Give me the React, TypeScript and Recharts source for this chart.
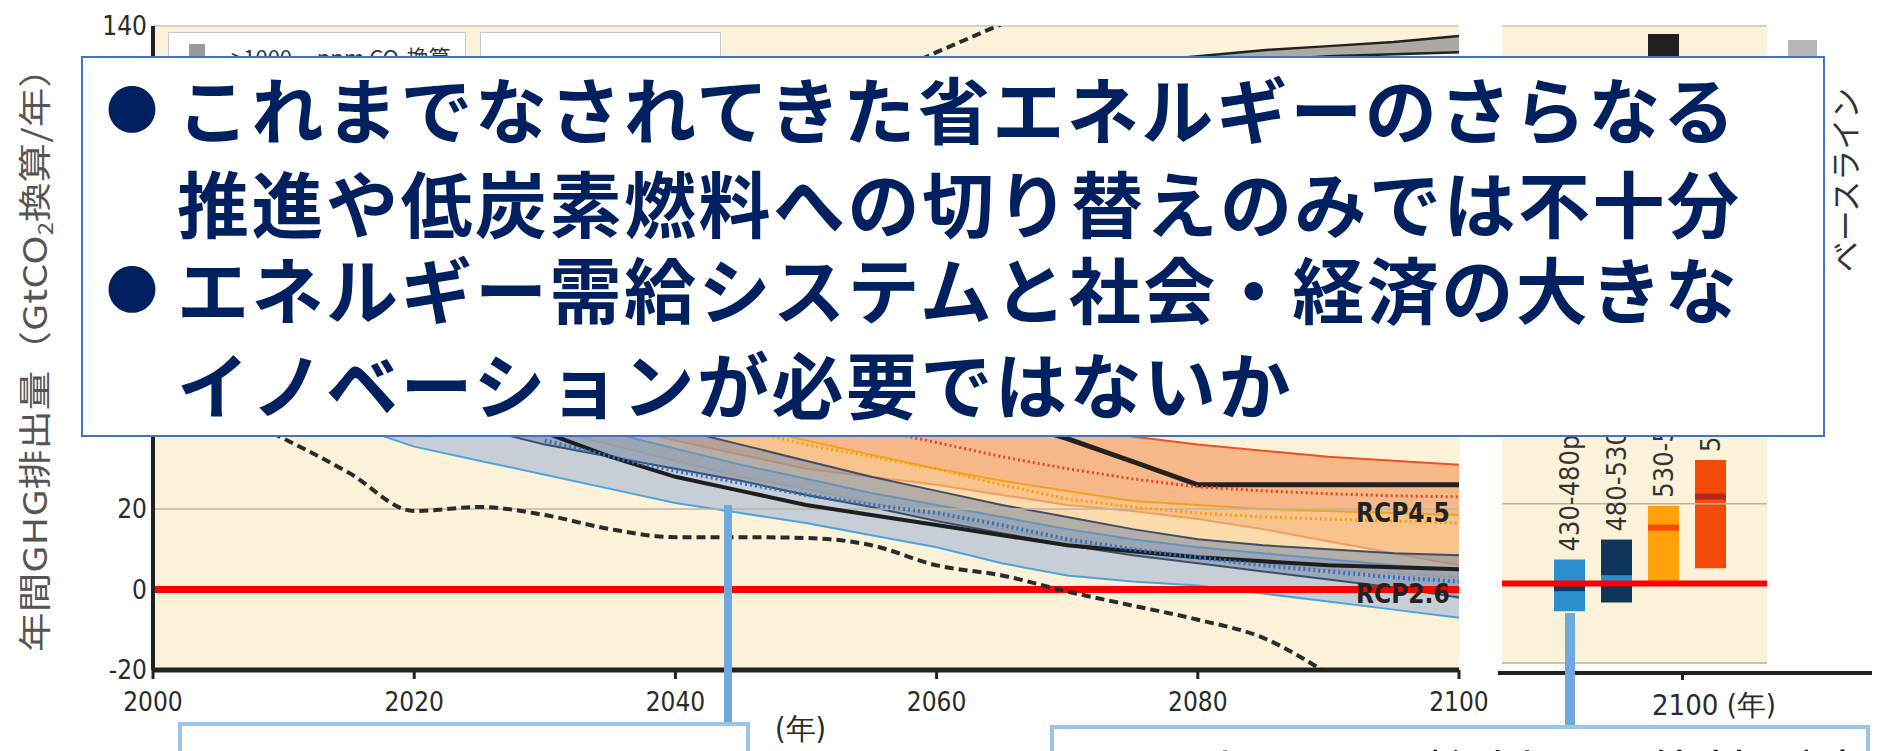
import React from 'react';
import {
  ComposedChart, Area, Line, Bar, XAxis, YAxis, CartesianGrid,
  ReferenceLine, ReferenceDot, LabelList,
} from 'recharts';

// 年ごとの排出経路 (GtCO2換算/年)
const years = [2000, 2005, 2010, 2015, 2020, 2025, 2030, 2035, 2040, 2045, 2050, 2055, 2060, 2065, 2070, 2075, 2080, 2085, 2090, 2095, 2100];
const _ = null;
const band430Low = [_, _, 48, 41, 35.5, 32, 28.5, 25, 21.5, 19, 16.5, 13.5, 10.5, 6.5, 3.5, 2, 1, -1, -3, -5, -7];
const band430High = [_, _, 50, 52, 50, 47, 43, 39, 35, 31, 27.5, 24, 21, 18, 15, 12.5, 10.5, 9, 7.5, 6, 5];
const band480Low = [_, _, 49, 48, 44, 40, 36, 33, 30, 27, 23.5, 20.5, 17, 14, 11, 8.5, 6.5, 4.5, 2.5, 0.5, -2];
const band480High = [_, _, 50, 52, 51, 49, 46, 43, 40, 36, 32, 28, 24.5, 21, 18, 15, 12.5, 11, 10, 9, 8.5];
const band530Low = [_, _, 50, 51, 48, 44, 40, 36, 32, 28, 25, 21.5, 18, 15, 12, 9.5, 8, 6.5, 5, 4, 3];
const band530High = [_, _, 51, 54, 55, 53, 51, 48, 45, 41, 37, 33.5, 30, 27, 24.5, 22, 21, 20, 19.5, 19, 18.5];
const band580Low = [_, _, 51, 53, 52, 49, 45, 41, 37, 33.5, 30, 28, 26, 23.5, 21, 19.5, 17.5, 15, 12, 9, 6];
const band580High = [_, _, 52, 56, 58, 60, 60, 58, 56, 53, 50, 47.5, 45, 42.5, 40, 38, 36, 34.5, 33, 32, 31];
const band1000Low = [_, _, _, _, _, _, _, _, _, _, _, _, _, _, 127, 129, 130.5, 131.5, 132.5, 133, 133.5];
const band1000High = [_, _, _, _, _, _, _, _, _, _, _, _, _, _, 129, 131, 132.5, 134, 135, 136, 137.5];

const stepBlack = [_, _, _, _, _, _, _, _, _, _, _, 52, 48, 42.5, 37.5, 31.8, 26, 26, 26, 26, 26];
const redDotted = [_, _, _, _, _, _, _, _, 50, 46.5, 43, 40, 36.5, 33, 30, 27.5, 25.5, 24.5, 23.8, 23.3, 23];
const orangeDotted = [_, _, _, _, _, _, _, _, 44, 40, 36, 33, 30, 26, 22.5, 20.5, 19, 18, 17.5, 17, 16.5];
const blueDotted = [_, _, _, _, _, _, 37, 33, 29.5, 26.5, 23.5, 21, 19, 16, 12.5, 10, 8, 6, 4.5, 3, 2];
const medianBlack = [_, _, _, _, _, _, 39, 33, 28, 24.5, 21, 18.5, 16, 13.5, 11, 9.5, 8, 7, 6, 5.5, 5];
const dashedLow = [48, 45, 37.5, 29, 19.5, 20.5, 18.5, 15, 13, 13, 12.8, 11, 6, 3.5, -0.5, -4, -7.5, -12, -21, _, _];
const dashedHigh = [_, _, _, _, _, _, _, _, _, _, 119, 126, 133.5, 140.5, 147, _, _, _, _, _, _];

const xTicks = [2000, 2020, 2040, 2060, 2080, 2100];
const yTicks = [-20, 0, 20, 140];

// 2100年の濃度カテゴリ別レンジ
const rightCats = ['430-480ppm', '480-530ppm', '530-580ppm', '580-720ppm'];
const rangeLow = [-7, -4.8, -0.3, 3.8];
const rangeHigh = [6, 11, 19.5, 31];
const rangeMedian = [-1.2, 1.3, 14, 21.8];
const upperLow = [_, _, 112, _];
const upperHigh = [_, _, 138, _];
const baselineLow = [100];
const baselineHigh = [136.5];

const overlayLines = [
  { bullet: true, top: 62, text: 'これまでなされてきた省エネルギーのさらなる' },
  { bullet: false, top: 156, text: '推進や低炭素燃料への切り替えのみでは不十分' },
  { bullet: true, top: 242, text: 'エネルギー需給システムと社会・経済の大きな' },
  { bullet: false, top: 337, text: 'イノベーションが必要ではないか' },
];

const BAR_FILL = ['#2A8FCC', '#10355A', '#FFA10A', '#F64A0B'];
const BAR_MEDIAN = ['#12385E', '#2A8FCC', '#F64A0B', '#B3261A'];

const NARROW = "'Liberation Sans Narrow', 'DejaVu Sans Condensed', 'Liberation Sans', sans-serif";
const JP = "'Noto Sans CJK JP', 'Noto Sans', sans-serif";

const pair = (lo: (number | null)[], hi: (number | null)[], i: number) =>
  lo[i] == null || hi[i] == null ? null : [lo[i], hi[i]];

const mainData = years.map((year, i) => ({
  year,
  b430: pair(band430Low, band430High, i),
  b480: pair(band480Low, band480High, i),
  b530: pair(band530Low, band530High, i),
  b580: pair(band580Low, band580High, i),
  b1000: pair(band1000Low, band1000High, i),
  step: stepBlack[i],
  red: redDotted[i],
  orange: orangeDotted[i],
  blue: blueDotted[i],
  median: medianBlack[i],
  dLow: dashedLow[i],
  dHigh: dashedHigh[i],
}));

const rightData = rightCats.map((cat, i) => ({
  cat,
  range: [rangeLow[i], rangeHigh[i]],
  upper: pair(upperLow, upperHigh, i),
}));

const baselineData = baselineLow.map((lo, i) => ({ cat: 'baseline', range: [lo, baselineHigh[i]] }));

const RangeBarShape = (props: any) => {
  const { x, y, width, height, index } = props;
  const top = Math.min(y, y + height);
  const h = Math.abs(height);
  const lo = rangeLow[index];
  const hi = rangeHigh[index];
  const my = top + (h * (hi - rangeMedian[index])) / (hi - lo);
  return (
    <g>
      <rect x={x} y={top} width={width} height={h} fill={BAR_FILL[index]} />
      <rect x={x} y={my - 3} width={width} height={6} fill={BAR_MEDIAN[index]} />
    </g>
  );
};

const VerticalLabel = (props: any) => {
  const { x, y, width, height, value } = props;
  const cx = x + width / 2;
  const ty = Math.min(y, y + height) - 8;
  return (
    <text x={cx} y={ty} transform={`rotate(-90 ${cx} ${ty})`} textAnchor="start"
      dominantBaseline="central" fontSize={27} fill="#333" fontFamily={NARROW}>
      {value}
    </text>
  );
};

const tickStyle = { fill: '#2a2a2a', fontSize: 26, fontFamily: NARROW };

export default function App() {
  return (
    <div style={{ position: 'absolute', left: 0, top: 0, width: 1877, height: 751, overflow: 'hidden', background: '#fff' }}>
      <div style={{ position: 'absolute', left: 0, top: 0 }}>
        <ComposedChart width={1500} height={751} data={mainData} margin={{ top: 26, right: 41, bottom: 41, left: 93 }}>
          <CartesianGrid fill="#FCF2DA" horizontal={false} vertical={false} />
          <XAxis dataKey="year" type="number" domain={[2000, 2100]} ticks={xTicks} interval={0} allowDataOverflow
            height={40} axisLine={{ stroke: '#222', strokeWidth: 5 }} tickLine={{ stroke: '#222', strokeWidth: 3 }}
            tickSize={9} tickMargin={14} tick={tickStyle} />
          <YAxis type="number" domain={[-20, 140]} ticks={yTicks} interval={0} allowDataOverflow width={60}
            axisLine={{ stroke: '#222', strokeWidth: 4 }} tickLine={false} tickSize={0} tickMargin={6} tick={tickStyle} />
          <ReferenceLine y={140} stroke="#D9D2C2" strokeWidth={2} />
          <ReferenceLine y={20} stroke="#BDB5A4" strokeWidth={1.5} />
          <ReferenceLine y={0} stroke="#FF0000" strokeWidth={7} />

          <Area dataKey="b580" type="linear" fill="#F4A774" fillOpacity={0.8} stroke="#E8561E" strokeWidth={2} dot={false} activeDot={false} isAnimationActive={false} />
          <Area dataKey="b530" type="linear" fill="#FBCB8F" fillOpacity={0.6} stroke="#F5A11C" strokeWidth={2} dot={false} activeDot={false} isAnimationActive={false} />
          <Area dataKey="b430" type="linear" fill="#B3BFD3" fillOpacity={0.72} stroke="#4DA3DC" strokeWidth={2} dot={false} activeDot={false} isAnimationActive={false} />
          <Area dataKey="b480" type="linear" fill="#7A88A3" fillOpacity={0.55} stroke="#3C4F6B" strokeWidth={2} dot={false} activeDot={false} isAnimationActive={false} />
          <Area dataKey="b1000" type="linear" fill="#8A8A8A" fillOpacity={0.7} stroke="#222" strokeWidth={2.5} dot={false} activeDot={false} isAnimationActive={false} />

          <Line dataKey="step" type="linear" stroke="#222" strokeWidth={5} dot={false} activeDot={false} isAnimationActive={false} />
          <Line dataKey="red" type="linear" stroke="#E8442A" strokeWidth={3} strokeDasharray="2 3" dot={false} activeDot={false} isAnimationActive={false} />
          <Line dataKey="orange" type="linear" stroke="#F7A000" strokeWidth={3} strokeDasharray="2 3" dot={false} activeDot={false} isAnimationActive={false} />
          <Line dataKey="median" type="linear" stroke="#1E1E1E" strokeWidth={4} dot={false} activeDot={false} isAnimationActive={false} />
          <Line dataKey="blue" type="linear" stroke="#2F73C2" strokeWidth={4} strokeDasharray="2 3" dot={false} activeDot={false} isAnimationActive={false} />
          <Line dataKey="dLow" type="monotone" stroke="#2b2b2b" strokeWidth={4} strokeDasharray="9 5" dot={false} activeDot={false} isAnimationActive={false} />
          <Line dataKey="dHigh" type="linear" stroke="#2b2b2b" strokeWidth={4} strokeDasharray="9 5" dot={false} activeDot={false} isAnimationActive={false} />

          <ReferenceDot x={2095.7} y={19} r={0} fill="none" stroke="none"
            label={{ value: 'RCP4.5', position: 'center', fill: '#222', fontSize: 26, fontWeight: 700, fontFamily: NARROW }} />
          <ReferenceDot x={2095.7} y={-1} r={0} fill="none" stroke="none"
            label={{ value: 'RCP2.6', position: 'center', fill: '#222', fontSize: 26, fontWeight: 700, fontFamily: NARROW }} />
        </ComposedChart>
      </div>

      <div style={{ position: 'absolute', left: 1480, top: 0 }}>
        <ComposedChart width={397} height={751} data={rightData} barGap={-31} margin={{ top: 26, right: 110, bottom: 88, left: 22 }}>
          <CartesianGrid fill="#FCF2DA" horizontal={false} vertical={false} />
          <XAxis dataKey="cat" type="category" hide padding={{ left: 44, right: 33 }} />
          <YAxis type="number" domain={[-20, 140]} hide allowDataOverflow />
          <ReferenceLine y={140} stroke="#D9D2C2" strokeWidth={2} />
          <ReferenceLine y={-20} stroke="#C9C2B2" strokeWidth={2} />
          <ReferenceLine y={20} stroke="#BDB5A4" strokeWidth={1.5} />
          <ReferenceLine y={0} stroke="#FF0000" strokeWidth={6} />
          <Bar dataKey="range" barSize={31} shape={RangeBarShape} isAnimationActive={false}>
            <LabelList dataKey="cat" content={VerticalLabel} />
          </Bar>
          <Bar dataKey="upper" barSize={31} fill="#231F20" isAnimationActive={false} />
        </ComposedChart>
      </div>

      <div style={{ position: 'absolute', left: 1767, top: 0 }}>
        <ComposedChart width={110} height={751} data={baselineData} margin={{ top: 26, right: 52, bottom: 88, left: 13 }}>
          <XAxis dataKey="cat" type="category" hide />
          <YAxis type="number" domain={[-20, 140]} hide allowDataOverflow />
          <Bar dataKey="range" barSize={29} fill="#B8B6B4" isAnimationActive={false} />
        </ComposedChart>
      </div>

      {/* 右パネルの軸 */}
      <div style={{ position: 'absolute', left: 1498, top: 671, width: 374, height: 4, background: '#222' }} />
      <div style={{ position: 'absolute', left: 1681, top: 673, width: 3, height: 7, background: '#222' }} />
      <div style={{ position: 'absolute', left: 1652, top: 688, fontSize: 29, lineHeight: '34px', color: '#2a2a2a', fontFamily: NARROW, whiteSpace: 'nowrap' }}>
        2100 (年)
      </div>
      <div style={{ position: 'absolute', left: 775, top: 711, fontSize: 30, lineHeight: '36px', color: '#2a2a2a', fontFamily: NARROW }}>(年)</div>
      <div style={{ position: 'absolute', left: 1843, top: 180, transform: 'translate(-50%, -50%) rotate(-90deg)', fontSize: 31, color: '#333', fontFamily: JP, whiteSpace: 'nowrap' }}>
        ベースライン
      </div>

      {/* 縦軸タイトル */}
      <div style={{ position: 'absolute', left: 34, top: 350, transform: 'translate(-50%, -50%) rotate(-90deg) scaleX(1.2)', fontSize: 33, color: '#555', fontFamily: JP, whiteSpace: 'nowrap' }}>
        年間GHG排出量（GtCO<span style={{ fontSize: 20, verticalAlign: -6 }}>2</span>換算/年）
      </div>

      {/* 凡例（吹き出しに隠れた部分は切り取る） */}
      <div style={{ position: 'absolute', left: 168, top: 32, width: 298, height: 26, overflow: 'hidden', borderTop: '1.5px solid #C8C8C8', borderLeft: '1.5px solid #C8C8C8', borderRight: '1.5px solid #C8C8C8', background: '#fff', boxSizing: 'border-box' }}>
        <div style={{ position: 'absolute', left: 20, top: 11, width: 16, height: 18, background: '#9A9A9A' }} />
        <div style={{ position: 'absolute', left: 62, top: 8, fontSize: 22, lineHeight: '30px', color: '#333', fontFamily: JP, whiteSpace: 'nowrap' }}>
          &gt;1000&nbsp;&nbsp;&nbsp;&nbsp;&nbsp;ppm CO<span style={{ fontSize: 14 }}>2</span>換算
        </div>
      </div>
      <div style={{ position: 'absolute', left: 480, top: 32, width: 241, height: 26, borderTop: '1.5px solid #C8C8C8', borderLeft: '1.5px solid #C8C8C8', borderRight: '1.5px solid #C8C8C8', background: '#fff', boxSizing: 'border-box' }} />

      {/* 吹き出し */}
      <div style={{ position: 'absolute', left: 81, top: 56, width: 1744, height: 381, border: '2px solid #4472C4', background: '#fff', boxSizing: 'border-box' }} />
      {overlayLines.map((ln, i) => (
        <div key={i} style={{ position: 'absolute', left: 0, top: ln.top, height: 90, width: 1877 }}>
          {ln.bullet && (
            <div style={{ position: 'absolute', left: 106, top: 0, lineHeight: '90px', fontSize: 52, color: '#002060', fontFamily: JP }}>●</div>
          )}
          <div style={{ position: 'absolute', left: 177, top: 0, lineHeight: '90px', fontSize: 72, fontWeight: 700, letterSpacing: 2.5, color: '#002060', fontFamily: JP, whiteSpace: 'nowrap' }}>
            {ln.text}
          </div>
        </div>
      ))}

      {/* 下部の吹き出し */}
      <div style={{ position: 'absolute', left: 724, top: 505, width: 8, height: 218, background: '#6FA8DC' }} />
      <div style={{ position: 'absolute', left: 1565, top: 613, width: 10, height: 113, background: '#6FA8DC' }} />
      <div style={{ position: 'absolute', left: 178, top: 722, width: 572, height: 60, border: '4px solid #9DC3E6', background: '#fff', boxSizing: 'border-box' }} />
      <div style={{ position: 'absolute', left: 1050, top: 725, width: 820, height: 60, border: '4px solid #9DC3E6', background: '#fff', boxSizing: 'border-box' }} />
      <div style={{ position: 'absolute', left: 1112, top: 746, fontSize: 52, lineHeight: 1, letterSpacing: 4, color: '#111', fontFamily: JP, whiteSpace: 'nowrap' }}>
        2℃上昇への抑制の可能性が高い
      </div>
    </div>
  );
}
